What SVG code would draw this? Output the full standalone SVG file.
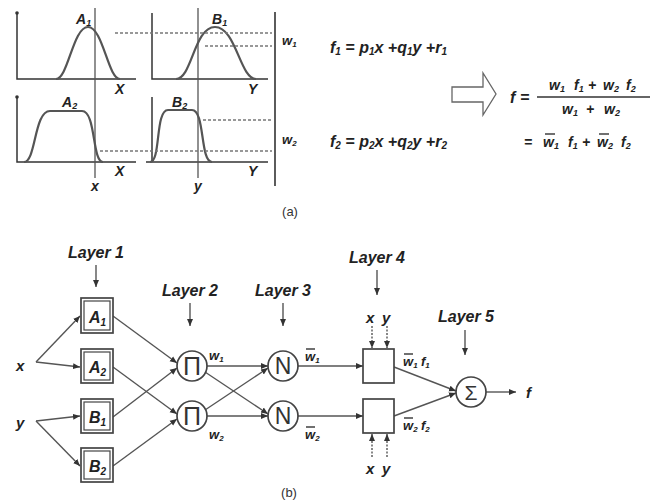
<svg xmlns="http://www.w3.org/2000/svg" width="656" height="501" viewBox="0 0 656 501">
<style>
.ax{stroke:#333;stroke-width:1.5;fill:none}
.cv{stroke:#555;stroke-width:2.2;fill:none}
.vl{stroke:#555;stroke-width:1.3;fill:none}
.ds{stroke:#777;stroke-width:1.3;stroke-dasharray:3,2;fill:none}
.t{font-family:"Liberation Sans",Arial,sans-serif;font-weight:bold;font-style:italic;fill:#222}
.r{font-family:"Liberation Sans",Arial,sans-serif;fill:#333}
.ln{stroke:#555;stroke-width:1.4;fill:none}
.node{stroke:#444;stroke-width:1.7;fill:#fff}
.bar{stroke:#222;stroke-width:1.3}
</style>
<defs>
<marker id="ah" markerWidth="8" markerHeight="8" refX="7" refY="4" orient="auto" markerUnits="userSpaceOnUse">
<path d="M0,1 L7,4 L0,7 z" fill="#333"/>
</marker>
</defs>
<rect width="656" height="501" fill="#fff"/>

<!-- Part (a) plots -->
<g id="plots">
<path class="ax" d="M17,13 V79 H136"/>
<circle cx="17" cy="13" r="1.8" fill="#333"/>
<path class="cv" d="M56,79 C68,79 73,27 88,27 C103,27 108,79 120,79"/>
<text class="t" x="76" y="24" font-size="14">A<tspan font-size="9" dy="2">1</tspan></text>
<text class="t" x="115" y="94" font-size="14">X</text>

<path class="ax" d="M152,13 V79 H268"/>
<path class="cv" d="M176,79 C192,79 194,27 215,27 C236,27 240,79 256,79"/>
<text class="t" x="212" y="24" font-size="14">B<tspan font-size="9" dy="2">1</tspan></text>
<text class="t" x="248" y="94" font-size="14">Y</text>

<path class="ax" d="M17,97 V162 H136"/>
<circle cx="17" cy="97" r="1.8" fill="#333"/>
<path class="cv" d="M24,162 C36,162 34,111 50,111 L82,111 C96,111 92,162 103,162"/>
<text class="t" x="62" y="107" font-size="14">A<tspan font-size="9" dy="2">2</tspan></text>
<text class="t" x="115" y="176" font-size="14">X</text>

<path class="ax" d="M152,97 V162"/>
<path class="ax" d="M146,162 H268"/>
<path class="cv" d="M150,162 C161,162 155,110 168,110 L192,110 C205,110 200,162 212,162"/>
<text class="t" x="172" y="107" font-size="14">B<tspan font-size="9" dy="2">2</tspan></text>
<text class="t" x="248" y="176" font-size="14">Y</text>

<line class="vl" x1="95" y1="8" x2="95" y2="178"/>
<line class="vl" x1="198" y1="8" x2="198" y2="178"/>
<text class="t" x="91" y="191" font-size="14">x</text>
<text class="t" x="194" y="191" font-size="14">y</text>

<line class="ds" x1="115" y1="33" x2="272" y2="33"/>
<line class="ds" x1="205" y1="46" x2="272" y2="46"/>
<line class="ds" x1="203" y1="120" x2="272" y2="120"/>
<line class="ds" x1="100" y1="151" x2="272" y2="151"/>
<line x1="275" y1="12" x2="275" y2="186" stroke="#333" stroke-width="1.6"/>
</g>

<g id="rules">
<text class="t" x="282" y="45" font-size="13">w<tspan font-size="8" dy="2">1</tspan></text>
<text class="t" x="282" y="144" font-size="13">w<tspan font-size="8" dy="2">2</tspan></text>
<text class="t" x="330" y="53" font-size="16">f<tspan font-size="10" dy="2">1</tspan><tspan dy="-2"> = p</tspan><tspan font-size="10" dy="2">1</tspan><tspan dy="-2">x +q</tspan><tspan font-size="10" dy="2">1</tspan><tspan dy="-2">y +r</tspan><tspan font-size="10" dy="2">1</tspan></text>
<text class="t" x="330" y="147" font-size="16">f<tspan font-size="10" dy="2">2</tspan><tspan dy="-2"> = p</tspan><tspan font-size="10" dy="2">2</tspan><tspan dy="-2">x +q</tspan><tspan font-size="10" dy="2">2</tspan><tspan dy="-2">y +r</tspan><tspan font-size="10" dy="2">2</tspan></text>
</g>

<g id="hollow-arrow">
<path d="M452,87 H483 V73 L496,94 L483,115 V102 H452 Z" fill="#fff" stroke="#666" stroke-width="1.3"/>
</g>

<g id="output-formula">
<text class="t" x="510" y="103" font-size="16">f</text>
<text class="t" x="520" y="103" font-size="16">=</text>
<line x1="537" y1="97" x2="650" y2="97" stroke="#333" stroke-width="1.3"/>
<text class="t" font-size="14"><tspan x="549" y="90">w</tspan><tspan font-size="9" dy="2">1</tspan><tspan x="574" y="90">f</tspan><tspan font-size="9" dy="2">1</tspan><tspan x="588" y="90">+</tspan><tspan x="603" y="90">w</tspan><tspan font-size="9" dy="2">2</tspan><tspan x="626" y="90">f</tspan><tspan font-size="9" dy="2">2</tspan></text>
<text class="t" font-size="14"><tspan x="562" y="114">w</tspan><tspan font-size="9" dy="2">1</tspan><tspan x="586" y="114">+</tspan><tspan x="604" y="114">w</tspan><tspan font-size="9" dy="2">2</tspan></text>
<text class="t" font-size="14"><tspan x="524" y="147">=</tspan><tspan x="543" y="147">w</tspan><tspan font-size="9" dy="2">1</tspan><tspan x="568" y="147">f</tspan><tspan font-size="9" dy="2">1</tspan><tspan x="582" y="147">+</tspan><tspan x="597" y="147">w</tspan><tspan font-size="9" dy="2">2</tspan><tspan x="621" y="147">f</tspan><tspan font-size="9" dy="2">2</tspan></text>
<line class="bar" x1="545" y1="134" x2="555" y2="134"/>
<line class="bar" x1="599" y1="134" x2="609" y2="134"/>
<text class="r" x="290" y="216" font-size="13" text-anchor="middle">(a)</text>
</g>

<!-- Part (b) -->
<g id="layer-labels">
<text class="t" x="96" y="258" font-size="16" text-anchor="middle">Layer 1</text>
<text class="t" x="190" y="296" font-size="16" text-anchor="middle">Layer 2</text>
<text class="t" x="283" y="296" font-size="16" text-anchor="middle">Layer 3</text>
<text class="t" x="377" y="263" font-size="16" text-anchor="middle">Layer 4</text>
<text class="t" x="466" y="322" font-size="16" text-anchor="middle">Layer 5</text>
</g>

<g id="connectors">
<line class="ln" x1="96" y1="265" x2="96" y2="287" marker-end="url(#ah)"/>
<line class="ln" x1="190" y1="303" x2="190" y2="326" marker-end="url(#ah)"/>
<line class="ln" x1="283" y1="303" x2="283" y2="326" marker-end="url(#ah)"/>
<line class="ln" x1="377" y1="270" x2="377" y2="295" marker-end="url(#ah)"/>
<line class="ln" x1="465" y1="330" x2="465" y2="355" marker-end="url(#ah)"/>

<line class="ln" x1="36" y1="362" x2="80" y2="316" marker-end="url(#ah)"/>
<line class="ln" x1="36" y1="362" x2="80" y2="367" marker-end="url(#ah)"/>
<line class="ln" x1="36" y1="421" x2="80" y2="416" marker-end="url(#ah)"/>
<line class="ln" x1="36" y1="421" x2="80" y2="466" marker-end="url(#ah)"/>

<line class="ln" x1="113" y1="316" x2="177" y2="363" marker-end="url(#ah)"/>
<line class="ln" x1="113" y1="417" x2="177" y2="368" marker-end="url(#ah)"/>
<line class="ln" x1="113" y1="367" x2="177" y2="414" marker-end="url(#ah)"/>
<line class="ln" x1="113" y1="466" x2="177" y2="419" marker-end="url(#ah)"/>

<line class="ln" x1="207" y1="366" x2="268" y2="366" marker-end="url(#ah)"/>
<line class="ln" x1="205" y1="372" x2="268" y2="414" marker-end="url(#ah)"/>
<line class="ln" x1="205" y1="410" x2="268" y2="368" marker-end="url(#ah)"/>
<line class="ln" x1="207" y1="416" x2="268" y2="416" marker-end="url(#ah)"/>

<line class="ln" x1="298" y1="366" x2="363" y2="366" marker-end="url(#ah)"/>
<line class="ln" x1="298" y1="416" x2="363" y2="416" marker-end="url(#ah)"/>

<line class="ln" x1="372" y1="326" x2="372" y2="348" marker-end="url(#ah)" stroke-dasharray="2,1.5"/>
<line class="ln" x1="387" y1="326" x2="387" y2="348" marker-end="url(#ah)" stroke-dasharray="2,1.5"/>
<line class="ln" x1="372" y1="457" x2="372" y2="434" marker-end="url(#ah)" stroke-dasharray="2,1.5"/>
<line class="ln" x1="387" y1="457" x2="387" y2="434" marker-end="url(#ah)" stroke-dasharray="2,1.5"/>

<line class="ln" x1="394" y1="367" x2="456" y2="391" marker-end="url(#ah)"/>
<line class="ln" x1="394" y1="416" x2="456" y2="393" marker-end="url(#ah)"/>
<line class="ln" x1="486" y1="392" x2="516" y2="392" marker-end="url(#ah)"/>
</g>

<g id="inputs">
<text class="t" x="16" y="371" font-size="15">x</text>
<text class="t" x="16" y="428" font-size="15">y</text>
</g>

<g id="A1"><rect class="node" x="81" y="298" width="32" height="35"/><rect x="84" y="301" width="26" height="29" fill="none" stroke="#444" stroke-width="1.2"/><text class="t" x="89" y="323" font-size="16">A<tspan font-size="10" dy="3">1</tspan></text></g>
<g id="A2"><rect class="node" x="81" y="349" width="32" height="34"/><rect x="84" y="352" width="26" height="28" fill="none" stroke="#444" stroke-width="1.2"/><text class="t" x="89" y="373" font-size="16">A<tspan font-size="10" dy="3">2</tspan></text></g>
<g id="B1"><rect class="node" x="81" y="399" width="32" height="34"/><rect x="84" y="402" width="26" height="28" fill="none" stroke="#444" stroke-width="1.2"/><text class="t" x="89" y="423" font-size="16">B<tspan font-size="10" dy="3">1</tspan></text></g>
<g id="B2"><rect class="node" x="81" y="448" width="32" height="34"/><rect x="84" y="451" width="26" height="28" fill="none" stroke="#444" stroke-width="1.2"/><text class="t" x="89" y="472" font-size="16">B<tspan font-size="10" dy="3">2</tspan></text></g>

<g id="Pi1"><circle class="node" cx="192" cy="366" r="15"/><text class="r" x="192" y="375" font-size="25" text-anchor="middle">Π</text></g>
<g id="Pi2"><circle class="node" cx="192" cy="416" r="15"/><text class="r" x="192" y="425" font-size="25" text-anchor="middle">Π</text></g>
<g id="N1"><circle class="node" cx="283" cy="366" r="15"/><text class="r" x="283" y="374" font-size="23" text-anchor="middle">N</text></g>
<g id="N2"><circle class="node" cx="283" cy="416" r="15"/><text class="r" x="283" y="424" font-size="23" text-anchor="middle">N</text></g>
<g id="L4a"><rect class="node" x="363" y="349" width="31" height="34"/></g>
<g id="L4b"><rect class="node" x="363" y="399" width="31" height="34"/></g>
<g id="Sigma"><circle class="node" cx="471" cy="392" r="15"/><text class="r" x="471" y="400" font-size="21" text-anchor="middle">Σ</text></g>

<g id="edge-labels">
<text class="t" x="209" y="360" font-size="13">w<tspan font-size="8" dy="2">1</tspan></text>
<text class="t" x="209" y="439" font-size="13">w<tspan font-size="8" dy="2">2</tspan></text>
<text class="t" x="305" y="361" font-size="13">w<tspan font-size="8" dy="2">1</tspan></text>
<line class="bar" x1="306" y1="349" x2="315" y2="349"/>
<text class="t" x="305" y="439" font-size="13">w<tspan font-size="8" dy="2">2</tspan></text>
<line class="bar" x1="306" y1="427" x2="315" y2="427"/>
<text class="t" font-size="15"><tspan x="366" y="323">x</tspan><tspan x="382" y="323">y</tspan></text>
<text class="t" font-size="15"><tspan x="366" y="474">x</tspan><tspan x="382" y="474">y</tspan></text>
<text class="t" font-size="13"><tspan x="403" y="366">w</tspan><tspan font-size="8" dy="2">1</tspan><tspan x="421" y="366">f</tspan><tspan font-size="8" dy="2">1</tspan></text>
<line class="bar" x1="404" y1="354" x2="413" y2="354"/>
<text class="t" font-size="13"><tspan x="403" y="430">w</tspan><tspan font-size="8" dy="2">2</tspan><tspan x="421" y="430">f</tspan><tspan font-size="8" dy="2">2</tspan></text>
<line class="bar" x1="404" y1="418" x2="413" y2="418"/>
<text class="t" x="526" y="398" font-size="15">f</text>
<text class="r" x="289" y="497" font-size="13" text-anchor="middle">(b)</text>
</g>
</svg>
